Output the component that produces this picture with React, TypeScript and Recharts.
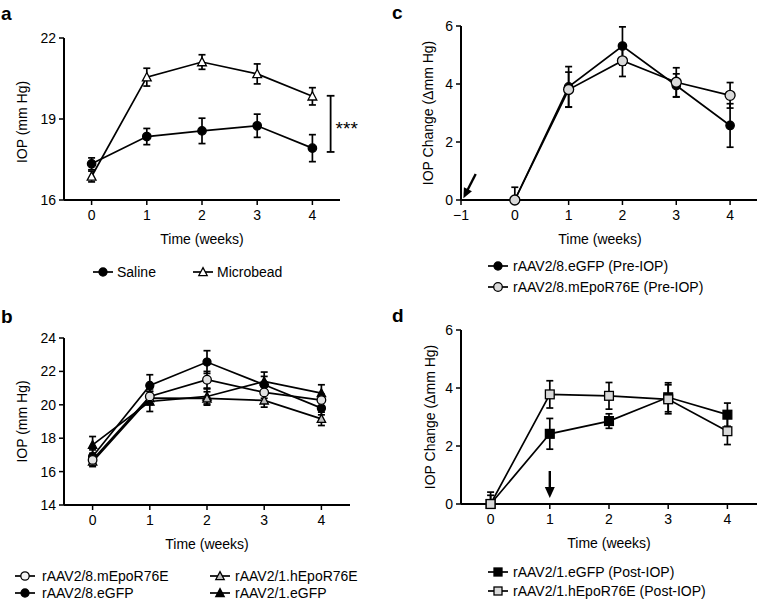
import React from 'react';
import { LineChart, Line, XAxis, YAxis, ErrorBar, ReferenceLine, ReferenceDot } from 'recharts';

const FONT = '"Liberation Sans", Arial, Helvetica, sans-serif';

// ---------- data ----------
const weeks = [0, 1, 2, 3, 4];

// Panel a
const salineMean = [17.34, 18.35, 18.56, 18.75, 17.92];
const salineSem = [0.22, 0.3, 0.47, 0.43, 0.5];
const microbeadMean = [16.87, 20.55, 21.11, 20.67, 19.84];
const microbeadSem = [0.2, 0.33, 0.27, 0.37, 0.32];
const yTicksA = [16, 19, 22];
const sigBracket = { x: 4.33, low: 17.78, high: 19.86, capL: 4.26, capR: 4.4 };

// Panel b
const b8mEpoMean = [16.7, 20.5, 21.5, 20.74, 20.28];
const b8mEpoSem = [0.3, 0.45, 0.5, 0.35, 0.35];
const b8eGFPMean = [16.9, 21.16, 22.56, 21.2, 19.8];
const b8eGFPSem = [0.4, 0.64, 0.68, 0.5, 0.4];
const b1hEpoMean = [16.6, 20.4, 20.38, 20.26, 19.16];
const b1hEpoSem = [0.3, 0.4, 0.4, 0.4, 0.4];
const b1eGFPMean = [17.6, 20.2, 20.5, 21.4, 20.7];
const b1eGFPSem = [0.5, 0.6, 0.45, 0.56, 0.5];
const yTicksB = [14, 16, 18, 20, 22, 24];

// Panel c
const cEGFPMean = [0, 3.9, 5.31, 3.95, 2.57];
const cEGFPSem = [0, 0.7, 0.66, 0.4, 0.75];
const cMEpoMean = [0, 3.81, 4.8, 4.06, 3.61];
const cMEpoSem = [0.44, 0.6, 0.54, 0.5, 0.44];
const xTicksC = [-1, 0, 1, 2, 3, 4];
const arrowC = { x: -1, y: 0 };

// Panel d
const dEGFPMean = [0, 2.42, 2.86, 3.68, 3.08];
const dEGFPSem = [0.3, 0.53, 0.25, 0.5, 0.4];
const dHEpoMean = [0, 3.78, 3.73, 3.61, 2.51];
const dHEpoSem = [0.41, 0.47, 0.46, 0.5, 0.46];
const arrowD = { x: 1, y: 0 };

const yTicksCD = [0, 2, 4, 6];
const xTicks = [0, 1, 2, 3, 4];

// ---------- helpers ----------
const err = (m: number, s: number, min: number) => (m - s < min ? [m - min, s] : s);

const buildData = (series: { key: string; mean: number[]; sem: number[] }[], min: number) =>
  weeks.map((w, i) => {
    const row: any = { week: w };
    series.forEach((s) => {
      row[s.key] = s.mean[i];
      row[s.key + 'Err'] = err(s.mean[i], s.sem[i], min);
    });
    return row;
  });

const dataA = buildData(
  [
    { key: 'saline', mean: salineMean, sem: salineSem },
    { key: 'microbead', mean: microbeadMean, sem: microbeadSem },
  ],
  16
);
const dataB = buildData(
  [
    { key: 'b8mEpo', mean: b8mEpoMean, sem: b8mEpoSem },
    { key: 'b8eGFP', mean: b8eGFPMean, sem: b8eGFPSem },
    { key: 'b1hEpo', mean: b1hEpoMean, sem: b1hEpoSem },
    { key: 'b1eGFP', mean: b1eGFPMean, sem: b1eGFPSem },
  ],
  14
);
const dataC = buildData(
  [
    { key: 'cEGFP', mean: cEGFPMean, sem: cEGFPSem },
    { key: 'cMEpo', mean: cMEpoMean, sem: cMEpoSem },
  ],
  0
);
const dataD = buildData(
  [
    { key: 'dEGFP', mean: dEGFPMean, sem: dEGFPSem },
    { key: 'dHEpo', mean: dHEpoMean, sem: dHEpoSem },
  ],
  0
);

type Kind = 'circle' | 'tri' | 'square';

const Marker = ({ kind, cx, cy, fill, size }: { kind: Kind; cx: number; cy: number; fill: string; size: number }) => {
  if (kind === 'circle')
    return <circle cx={cx} cy={cy} r={size} fill={fill} stroke="#000" strokeWidth={1.3} />;
  if (kind === 'square')
    return <rect x={cx - size} y={cy - size} width={size * 2} height={size * 2} fill={fill} stroke="#000" strokeWidth={1.3} />;
  const h = size * 1.05;
  return (
    <polygon
      points={`${cx},${cy - h} ${cx + size},${cy + h * 0.8} ${cx - size},${cy + h * 0.8}`}
      fill={fill}
      stroke="#000"
      strokeWidth={1.3}
      strokeLinejoin="miter"
    />
  );
};

const dot = (kind: Kind, fill: string, size: number) => (p: any) => {
  const { cx, cy, index } = p;
  if (cx == null || cy == null) return <g key={`e${index}`} />;
  return (
    <g key={`m${index}`}>
      <Marker kind={kind} cx={cx} cy={cy} fill={fill} size={size} />
    </g>
  );
};

const tickStyle = { fontSize: 14, fill: '#000', fontFamily: FONT };
const axisLine = { stroke: '#000', strokeWidth: 2 };
const tickLine = { stroke: '#000', strokeWidth: 1.5 };

const yTitle = (text: string, cx: number, dy = 0) => (props: any) => {
  const vb = props.viewBox || { y: 0, height: 0 };
  const cy = vb.y + vb.height / 2 + dy;
  return (
    <text
      x={cx}
      y={cy}
      transform={`rotate(-90 ${cx} ${cy})`}
      textAnchor="middle"
      dominantBaseline="central"
      fontSize={14}
      fontFamily={FONT}
      fill="#000"
    >
      {text}
    </text>
  );
};

const xTitle = (text: string, dx = 0) => (props: any) => {
  const vb = props.viewBox || { x: 0, y: 0, width: 0 };
  const cx = vb.x + vb.width / 2 + dx;
  const cy = vb.y + 39;
  return (
    <text x={cx} y={cy} textAnchor="middle" dominantBaseline="central" fontSize={14} fontFamily={FONT} fill="#000">
      {text}
    </text>
  );
};

const ArrowDiag = (p: any) => {
  const { cx, cy } = p;
  if (cx == null) return <g />;
  const tipX = cx + 2.4;
  const tipY = cy - 1.8;
  const tailX = cx + 14.7;
  const tailY = cy - 26;
  const dx = tipX - tailX;
  const dy = tipY - tailY;
  const len = Math.sqrt(dx * dx + dy * dy);
  const ux = dx / len;
  const uy = dy / len;
  const hl = 10;
  const hw = 4.5;
  const bx = tipX - ux * hl;
  const by = tipY - uy * hl;
  return (
    <g>
      <line x1={tailX} y1={tailY} x2={bx + ux * 2} y2={by + uy * 2} stroke="#000" strokeWidth={2.4} />
      <polygon
        points={`${tipX},${tipY} ${bx - uy * hw},${by + ux * hw} ${bx + uy * hw},${by - ux * hw}`}
        fill="#000"
      />
    </g>
  );
};

const ArrowDown = (p: any) => {
  const { cx, cy } = p;
  if (cx == null) return <g />;
  const tip = cy - 6;
  const top = cy - 33;
  return (
    <g>
      <line x1={cx} y1={top} x2={cx} y2={tip - 8} stroke="#000" strokeWidth={2.4} />
      <polygon points={`${cx},${tip} ${cx - 5},${tip - 11} ${cx + 5},${tip - 11}`} fill="#000" />
    </g>
  );
};

const LW = 1.7;

const PanelA = () => (
  <LineChart width={380} height={300} data={dataA} margin={{ top: 38, right: 40, left: 24, bottom: 70 }}>
    <XAxis
      dataKey="week"
      type="number"
      domain={[-0.5, 4.5]}
      ticks={xTicks}
      tick={tickStyle}
      axisLine={axisLine}
      tickLine={tickLine}
      tickSize={5}
      tickMargin={5}
      height={30}
      label={xTitle('Time (weeks)')}
    />
    <YAxis
      type="number"
      domain={[16, 22]}
      ticks={yTicksA}
      tick={tickStyle}
      axisLine={axisLine}
      tickLine={tickLine}
      tickSize={5}
      tickMargin={3}
      width={40}
      label={yTitle('IOP (mm Hg)', 22, 3)}
    />
    <ReferenceLine
      segment={[{ x: sigBracket.x, y: sigBracket.low }, { x: sigBracket.x, y: sigBracket.high }]}
      stroke="#000"
      strokeWidth={1.8}
      label={{ value: '***', position: 'right', offset: 5, fontSize: 19, fill: '#000', fontFamily: FONT, dy: 4 }}
    />
    <ReferenceLine
      segment={[{ x: sigBracket.capL, y: sigBracket.low }, { x: sigBracket.capR, y: sigBracket.low }]}
      stroke="#000"
      strokeWidth={1.8}
    />
    <ReferenceLine
      segment={[{ x: sigBracket.capL, y: sigBracket.high }, { x: sigBracket.capR, y: sigBracket.high }]}
      stroke="#000"
      strokeWidth={1.8}
    />
    <Line dataKey="saline" stroke="#000" strokeWidth={LW} isAnimationActive={false} dot={dot('circle', '#000', 4.2)} activeDot={false}>
      <ErrorBar dataKey="salineErr" width={3.5} stroke="#000" strokeWidth={1.7} />
    </Line>
    <Line dataKey="microbead" stroke="#000" strokeWidth={LW} isAnimationActive={false} dot={dot('tri', '#fff', 4.4)} activeDot={false}>
      <ErrorBar dataKey="microbeadErr" width={3.5} stroke="#000" strokeWidth={1.7} />
    </Line>
  </LineChart>
);

const PanelB = () => (
  <LineChart width={380} height={302} data={dataB} margin={{ top: 38, right: 30, left: 24, bottom: 67 }}>
    <XAxis
      dataKey="week"
      type="number"
      domain={[-0.5, 4.5]}
      ticks={xTicks}
      tick={tickStyle}
      axisLine={axisLine}
      tickLine={tickLine}
      tickSize={5}
      tickMargin={5}
      height={30}
      label={xTitle('Time (weeks)')}
    />
    <YAxis
      type="number"
      domain={[14, 24]}
      ticks={yTicksB}
      tick={tickStyle}
      axisLine={axisLine}
      tickLine={tickLine}
      tickSize={5}
      tickMargin={3}
      width={40}
      label={yTitle('IOP (mm Hg)', 22)}
    />
    <Line dataKey="b1eGFP" stroke="#000" strokeWidth={LW} isAnimationActive={false} dot={dot('tri', '#000', 4.2)} activeDot={false}>
      <ErrorBar dataKey="b1eGFPErr" width={3.5} stroke="#000" strokeWidth={1.7} />
    </Line>
    <Line dataKey="b1hEpo" stroke="#000" strokeWidth={LW} isAnimationActive={false} dot={dot('tri', '#bdbdbd', 4.2)} activeDot={false}>
      <ErrorBar dataKey="b1hEpoErr" width={3.5} stroke="#000" strokeWidth={1.7} />
    </Line>
    <Line dataKey="b8eGFP" stroke="#000" strokeWidth={LW} isAnimationActive={false} dot={dot('circle', '#000', 4)} activeDot={false}>
      <ErrorBar dataKey="b8eGFPErr" width={3.5} stroke="#000" strokeWidth={1.7} />
    </Line>
    <Line dataKey="b8mEpo" stroke="#000" strokeWidth={LW} isAnimationActive={false} dot={dot('circle', '#e2e2e2', 4.3)} activeDot={false}>
      <ErrorBar dataKey="b8mEpoErr" width={3.5} stroke="#000" strokeWidth={1.7} />
    </Line>
  </LineChart>
);

const PanelC = () => (
  <LineChart width={380} height={300} data={dataC} margin={{ top: 26, right: 3, left: 41, bottom: 70 }}>
    <XAxis
      dataKey="week"
      type="number"
      domain={[-1, 4.5]}
      ticks={xTicksC}
      tick={tickStyle}
      tickFormatter={(v: number) => (v < 0 ? '\u2212' + Math.abs(v) : String(v))}
      axisLine={axisLine}
      tickLine={tickLine}
      tickSize={5}
      tickMargin={5}
      height={30}
      label={xTitle('Time (weeks)', -9)}
    />
    <YAxis
      type="number"
      domain={[0, 6]}
      ticks={yTicksCD}
      tick={tickStyle}
      axisLine={axisLine}
      tickLine={tickLine}
      tickSize={5}
      tickMargin={3}
      width={40}
      label={yTitle('IOP Change (\u0394mm Hg)', 48)}
    />
    <ReferenceDot x={arrowC.x} y={arrowC.y} r={0} shape={ArrowDiag} />
    <Line dataKey="cEGFP" stroke="#000" strokeWidth={LW} isAnimationActive={false} dot={dot('circle', '#000', 4.2)} activeDot={false}>
      <ErrorBar dataKey="cEGFPErr" width={3.5} stroke="#000" strokeWidth={1.7} />
    </Line>
    <Line dataKey="cMEpo" stroke="#000" strokeWidth={LW} isAnimationActive={false} dot={dot('circle', '#d9d9d9', 5)} activeDot={false}>
      <ErrorBar dataKey="cMEpoErr" width={3.5} stroke="#000" strokeWidth={1.7} />
    </Line>
  </LineChart>
);

const PanelD = () => (
  <LineChart width={380} height={302} data={dataD} margin={{ top: 30, right: 3, left: 41, bottom: 68 }}>
    <XAxis
      dataKey="week"
      type="number"
      domain={[-0.5, 4.5]}
      ticks={xTicks}
      tick={tickStyle}
      axisLine={axisLine}
      tickLine={tickLine}
      tickSize={5}
      tickMargin={5}
      height={30}
      label={xTitle('Time (weeks)')}
    />
    <YAxis
      type="number"
      domain={[0, 6]}
      ticks={yTicksCD}
      tick={tickStyle}
      axisLine={axisLine}
      tickLine={tickLine}
      tickSize={5}
      tickMargin={3}
      width={40}
      label={yTitle('IOP Change (\u0394mm Hg)', 50)}
    />
    <ReferenceDot x={arrowD.x} y={arrowD.y} r={0} shape={ArrowDown} />
    <Line dataKey="dEGFP" stroke="#000" strokeWidth={LW} isAnimationActive={false} dot={dot('square', '#000', 4.4)} activeDot={false}>
      <ErrorBar dataKey="dEGFPErr" width={3.5} stroke="#000" strokeWidth={1.7} />
    </Line>
    <Line dataKey="dHEpo" stroke="#000" strokeWidth={LW} isAnimationActive={false} dot={dot('square', '#d9d9d9', 4.4)} activeDot={false}>
      <ErrorBar dataKey="dHEpoErr" width={3.5} stroke="#000" strokeWidth={1.7} />
    </Line>
  </LineChart>
);

type LegendItem = { x: number; tx: number; y: number; label: string; kind: Kind; fill: string; size: number };

const legendItems: LegendItem[] = [
  { x: 103, tx: 117, y: 272, label: 'Saline', kind: 'circle', fill: '#000', size: 4 },
  { x: 203, tx: 217, y: 272, label: 'Microbead', kind: 'tri', fill: '#fff', size: 4.2 },
  { x: 25, tx: 42, y: 576, label: 'rAAV2/8.mEpoR76E', kind: 'circle', fill: '#f2f2f2', size: 4.2 },
  { x: 25, tx: 42, y: 593, label: 'rAAV2/8.eGFP', kind: 'circle', fill: '#000', size: 4 },
  { x: 220, tx: 235, y: 576, label: 'rAAV2/1.hEpoR76E', kind: 'tri', fill: '#bdbdbd', size: 4.2 },
  { x: 220, tx: 235, y: 593, label: 'rAAV2/1.eGFP', kind: 'tri', fill: '#000', size: 4.2 },
  { x: 498, tx: 513, y: 266, label: 'rAAV2/8.eGFP (Pre-IOP)', kind: 'circle', fill: '#000', size: 4 },
  { x: 498, tx: 513, y: 287, label: 'rAAV2/8.mEpoR76E (Pre-IOP)', kind: 'circle', fill: '#d9d9d9', size: 4.3 },
  { x: 498, tx: 513, y: 572, label: 'rAAV2/1.eGFP (Post-IOP)', kind: 'square', fill: '#000', size: 4 },
  { x: 498, tx: 513, y: 591, label: 'rAAV2/1.hEpoR76E (Post-IOP)', kind: 'square', fill: '#d9d9d9', size: 4 },
];

const panelLetters = [
  { t: 'a', x: 1, y: 20 },
  { t: 'b', x: 1, y: 323 },
  { t: 'c', x: 392, y: 19 },
  { t: 'd', x: 392, y: 322 },
];

export default function App() {
  return (
    <div style={{ position: 'absolute', left: 0, top: 0, width: 760, height: 602, background: '#fff', fontFamily: FONT }}>
      <div style={{ position: 'absolute', left: 0, top: 0 }}>
        <PanelA />
      </div>
      <div style={{ position: 'absolute', left: 380, top: 0 }}>
        <PanelC />
      </div>
      <div style={{ position: 'absolute', left: 0, top: 300 }}>
        <PanelB />
      </div>
      <div style={{ position: 'absolute', left: 380, top: 300 }}>
        <PanelD />
      </div>
      <svg width={760} height={602} style={{ position: 'absolute', left: 0, top: 0, pointerEvents: 'none' }}>
        {legendItems.map((it, i) => (
          <g key={i}>
            <line x1={it.x - 10} y1={it.y} x2={it.x + 10} y2={it.y} stroke="#000" strokeWidth={1.7} />
            <Marker kind={it.kind} cx={it.x} cy={it.y} fill={it.fill} size={it.size} />
            <text x={it.tx} y={it.y} dominantBaseline="central" fontSize={14} fontFamily={FONT} fill="#000">
              {it.label}
            </text>
          </g>
        ))}
        {panelLetters.map((p) => (
          <text key={p.t} x={p.x} y={p.y} fontSize={19} fontWeight="bold" fontFamily={FONT} fill="#000">
            {p.t}
          </text>
        ))}
      </svg>
    </div>
  );
}
